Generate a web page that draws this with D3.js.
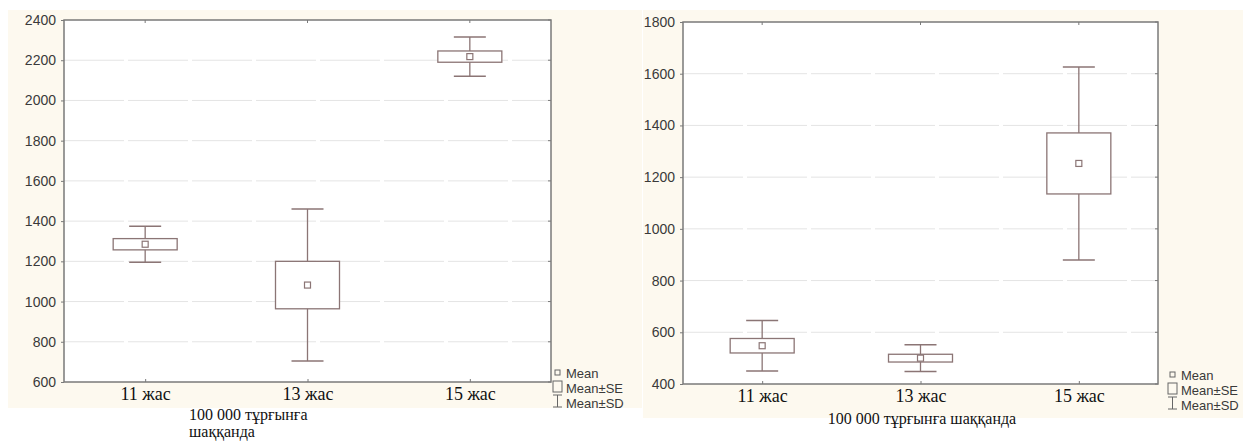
<!DOCTYPE html>
<html>
<head>
<meta charset="utf-8">
<script src="https://cdn.jsdelivr.net/npm/d3@7"></script>
<style>
  body { margin: 0; background: #fff; }
  svg { display: block; }
</style>
</head>
<body>
<div class="chart"></div>
<script>
// categories and values
var categories = ['11 жас', '13 жас', '15 жас']

var leftMean = [1285, 1082, 2218]
var leftSE = [28, 118, 28]
var leftSD = [90, 378, 98]
var leftTicks = [600, 800, 1000, 1200, 1400, 1600, 1800, 2000, 2200, 2400]

var rightMean = [548, 500, 1253]
var rightSE = [28, 15, 118]
var rightSD = [98, 52, 373]
var rightTicks = [400, 600, 800, 1000, 1200, 1400, 1600, 1800]

var legendLabels = ['Mean', 'Mean±SE', 'Mean±SD']

var width = 1243
var height = 441
var markColor = '#8b7575'
var frameColor = '#7a7a7a'

var svg = d3.select('.chart').append('svg')
  .attr('width', width)
  .attr('height', height)

// cream panels behind each chart
svg.append('rect').attr('x', 8).attr('y', 10).attr('width', 634).attr('height', 398).attr('fill', '#fdf9ef')
svg.append('rect').attr('x', 643).attr('y', 10).attr('width', 600).attr('height', 408).attr('fill', '#fdf9ef')

function drawPanel(p) {
  var x = d3.scalePoint().domain(categories).range([p.left, p.right]).padding(0.5)
  var y = d3.scaleLinear().domain(d3.extent(p.ticks)).range([p.bottom, p.top])

  var g = svg.append('g')

  // plot area
  g.append('rect')
    .attr('x', p.left).attr('y', p.top)
    .attr('width', p.right - p.left).attr('height', p.bottom - p.top)
    .attr('fill', '#fff')

  // grid
  g.selectAll('line.grid')
    .data(p.ticks.slice(1, -1))
    .enter().append('line')
    .attr('class', 'grid')
    .attr('x1', p.left).attr('x2', p.right)
    .attr('y1', d => y(d)).attr('y2', d => y(d))
    .attr('stroke', '#e4e4e4')
    .attr('stroke-dasharray', '60,4')

  // left axis
  var yAxis = g.append('g')
    .attr('transform', 'translate(' + p.left + ',0)')
    .call(d3.axisLeft(y).tickValues(p.ticks).tickSize(3).tickPadding(5).tickFormat(d3.format('d')))
  yAxis.select('.domain').remove()
  yAxis.selectAll('line').attr('stroke', frameColor)
  yAxis.selectAll('text')
    .style('font-family', 'Liberation Sans, Arial, sans-serif')
    .style('font-size', '14px')
    .attr('fill', '#3a3a3a')

  // right side small ticks
  g.selectAll('line.rt')
    .data(p.ticks)
    .enter().append('line')
    .attr('x1', p.right).attr('x2', p.right - 3)
    .attr('y1', d => y(d)).attr('y2', d => y(d))
    .attr('stroke', frameColor)

  // bottom axis
  var xAxis = g.append('g')
    .attr('transform', 'translate(0,' + p.bottom + ')')
    .call(d3.axisBottom(x).tickSize(-3).tickPadding(5))
  xAxis.select('.domain').remove()
  xAxis.selectAll('line').attr('stroke', frameColor)
  xAxis.selectAll('text')
    .style('font-family', 'Liberation Serif, Times New Roman, serif')
    .style('font-size', '18px')
    .attr('fill', '#111')

  // top small ticks
  g.selectAll('line.tt')
    .data(categories)
    .enter().append('line')
    .attr('x1', d => x(d)).attr('x2', d => x(d))
    .attr('y1', p.top).attr('y2', p.top + 3)
    .attr('stroke', frameColor)

  // frame
  g.append('rect')
    .attr('x', p.left).attr('y', p.top)
    .attr('width', p.right - p.left).attr('height', p.bottom - p.top)
    .attr('fill', 'none')
    .attr('stroke', frameColor)
    .attr('stroke-width', 1.5)

  var boxW = 64
  var capW = 32
  var marks = g.selectAll('g.mark')
    .data(categories)
    .enter().append('g')
    .attr('class', 'mark')

  // whiskers (mean +/- SD)
  marks.append('line')
    .attr('x1', d => x(d)).attr('x2', d => x(d))
    .attr('y1', (d, i) => y(p.mean[i] + p.sd[i]))
    .attr('y2', (d, i) => y(p.mean[i] - p.sd[i]))
    .attr('stroke', markColor).attr('stroke-width', 1.3)
  marks.append('line')
    .attr('x1', d => x(d) - capW / 2).attr('x2', d => x(d) + capW / 2)
    .attr('y1', (d, i) => y(p.mean[i] + p.sd[i]))
    .attr('y2', (d, i) => y(p.mean[i] + p.sd[i]))
    .attr('stroke', markColor).attr('stroke-width', 1.5)
  marks.append('line')
    .attr('x1', d => x(d) - capW / 2).attr('x2', d => x(d) + capW / 2)
    .attr('y1', (d, i) => y(p.mean[i] - p.sd[i]))
    .attr('y2', (d, i) => y(p.mean[i] - p.sd[i]))
    .attr('stroke', markColor).attr('stroke-width', 1.5)

  // box (mean +/- SE)
  marks.append('rect')
    .attr('x', d => x(d) - boxW / 2)
    .attr('y', (d, i) => y(p.mean[i] + p.se[i]))
    .attr('width', boxW)
    .attr('height', (d, i) => y(p.mean[i] - p.se[i]) - y(p.mean[i] + p.se[i]))
    .attr('fill', '#fff')
    .attr('stroke', markColor).attr('stroke-width', 1.3)

  // mean
  marks.append('rect')
    .attr('x', d => x(d) - 3)
    .attr('y', (d, i) => y(p.mean[i]) - 3)
    .attr('width', 6).attr('height', 6)
    .attr('fill', '#fff')
    .attr('stroke', markColor).attr('stroke-width', 1.2)

  // legend
  var lg = g.append('g').attr('transform', 'translate(' + p.legendX + ',' + p.legendY + ')')
  lg.append('rect').attr('x', 2).attr('y', -3).attr('width', 5).attr('height', 5)
    .attr('fill', 'none').attr('stroke', '#666')
  lg.append('rect').attr('x', 0).attr('y', 8).attr('width', 9).attr('height', 11)
    .attr('fill', 'none').attr('stroke', '#666')
  lg.append('line').attr('x1', 4.5).attr('x2', 4.5).attr('y1', 22).attr('y2', 34).attr('stroke', '#666')
  lg.append('line').attr('x1', 0).attr('x2', 9).attr('y1', 22).attr('y2', 22).attr('stroke', '#666')
  lg.append('line').attr('x1', 0).attr('x2', 9).attr('y1', 34).attr('y2', 34).attr('stroke', '#666')
  lg.selectAll('text')
    .data(legendLabels)
    .enter().append('text')
    .attr('x', 13)
    .attr('y', (d, i) => 4.5 + i * 15)
    .style('font-family', 'Liberation Sans, Arial, sans-serif')
    .style('font-size', '13px')
    .attr('fill', '#3a3a3a')
    .text(d => d)

  // axis title, one text per line
  g.selectAll('text.title')
    .data(p.title)
    .enter().append('text')
    .attr('class', 'title')
    .attr('x', p.titleX)
    .attr('y', (d, i) => p.titleY + i * 17)
    .attr('text-anchor', p.titleAnchor)
    .style('font-family', 'Liberation Serif, Times New Roman, serif')
    .style('font-size', '16px')
    .attr('fill', '#111')
    .text(d => d)
}

drawPanel({
  left: 64, right: 551, top: 20, bottom: 382,
  ticks: leftTicks, mean: leftMean, se: leftSE, sd: leftSD,
  legendX: 553, legendY: 373,
  title: ['100 000 тұрғынға', 'шаққанда'], titleX: 189, titleY: 420, titleAnchor: 'start'
})

drawPanel({
  left: 683, right: 1158, top: 22, bottom: 384,
  ticks: rightTicks, mean: rightMean, se: rightSE, sd: rightSD,
  legendX: 1168, legendY: 375,
  title: ['100 000 тұрғынға шаққанда'], titleX: 922, titleY: 424, titleAnchor: 'middle'
})
</script>
</body>
</html>
